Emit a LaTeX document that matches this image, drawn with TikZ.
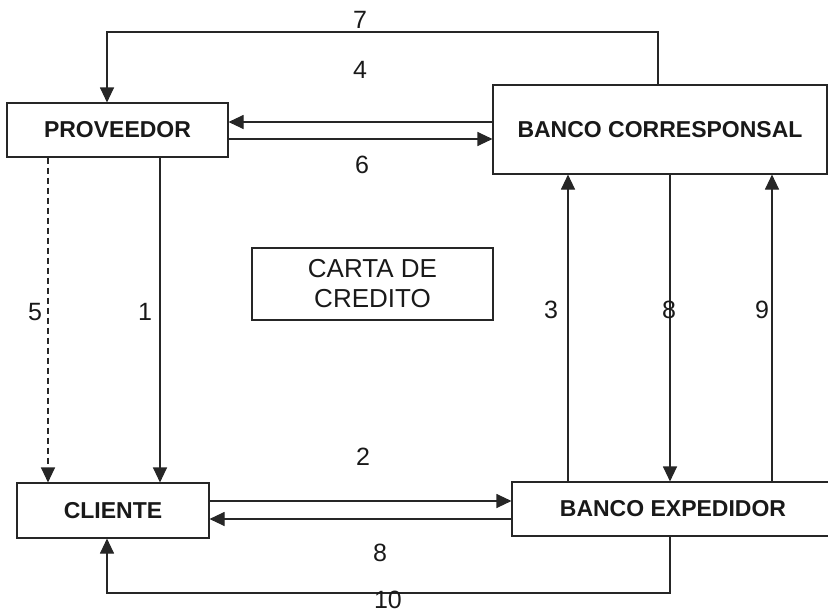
\documentclass[tikz,border=0pt]{standalone}
\usepackage{fontspec}
\setmainfont{Liberation Sans}
\usetikzlibrary{arrows.meta}
\begin{document}
\begin{tikzpicture}[x=1pt,y=-1pt,
  boxnode/.style={draw=black!85,line width=1.1pt,inner sep=0pt,font=\fontsize{23}{26}\selectfont\bfseries,text=black!90},
  conn/.style={draw=black!85,line width=1.1pt},
  arr/.style={conn,-{Triangle[length=15pt,width=14pt]}},
  lab/.style={font=\fontsize{25}{28}\selectfont,text=black!90,inner sep=0pt}]
\useasboundingbox (0,0) rectangle (828,613);
% boxes
\node[boxnode,minimum width=221pt,minimum height=54pt] (PROV) at (117.5,130) {PROVEEDOR};
\node[boxnode,minimum width=334pt,minimum height=89pt] (BC) at (660,129.5) {BANCO CORRESPONSAL};
\node[boxnode,minimum width=241pt,minimum height=72pt,align=center,font=\fontsize{26}{30}\selectfont] (CARTA) at (372.5,284) {CARTA DE\\CREDITO};
\node[boxnode,minimum width=192pt,minimum height=55pt] (CL) at (113,510.5) {CLIENTE};
\node[boxnode,minimum width=322pt,minimum height=54pt] (BE) at (673,509) {BANCO EXPEDIDOR};
% helper coordinates
\coordinate (c7a) at (658,32);
\coordinate (c7b) at (107,32);
\coordinate (y4) at (0,122);
\coordinate (y6) at (0,139);
\coordinate (x5) at (48,0);
\coordinate (x1) at (160,0);
\coordinate (x3) at (568,0);
\coordinate (x8) at (670,0);
\coordinate (x9) at (772,0);
\coordinate (y2) at (0,501);
\coordinate (y8) at (0,519);
\coordinate (c10a) at (670,593);
\coordinate (c10b) at (107,593);
% connectors
\draw[arr] (c7a |- BC.north) -- (c7a) -- (c7b) -- (c7b |- PROV.north);
\draw[arr] (BC.west |- y4) -- (PROV.east |- y4);
\draw[arr] (PROV.east |- y6) -- (BC.west |- y6);
\draw[arr,dashed,dash pattern=on 6pt off 4pt] (x5 |- PROV.south) -- (x5 |- CL.north);
\draw[arr] (x1 |- PROV.south) -- (x1 |- CL.north);
\draw[arr] (x3 |- BE.north) -- (x3 |- BC.south);
\draw[arr] (x8 |- BC.south) -- (x8 |- BE.north);
\draw[arr] (x9 |- BE.north) -- (x9 |- BC.south);
\draw[arr] (CL.east |- y2) -- (BE.west |- y2);
\draw[arr] (BE.west |- y8) -- (CL.east |- y8);
\draw[arr] (c10a |- BE.south) -- (c10a) -- (c10b) -- (c10b |- CL.south);
% labels
\node[lab] (l7) at (360,20) {7};
\node[lab] (l4) at (360,70) {4};
\node[lab] (l6) at (362,165) {6};
\node[lab] (l5) at (35,312) {5};
\node[lab] (l1) at (145,312) {1};
\node[lab] (l3) at (551,310) {3};
\node[lab] (l8a) at (669,310) {8};
\node[lab] (l9) at (762,310) {9};
\node[lab] (l2) at (363,457) {2};
\node[lab] (l8b) at (380,553) {8};
\node[lab] (l10) at (388,600) {10};
\end{tikzpicture}
\end{document}
